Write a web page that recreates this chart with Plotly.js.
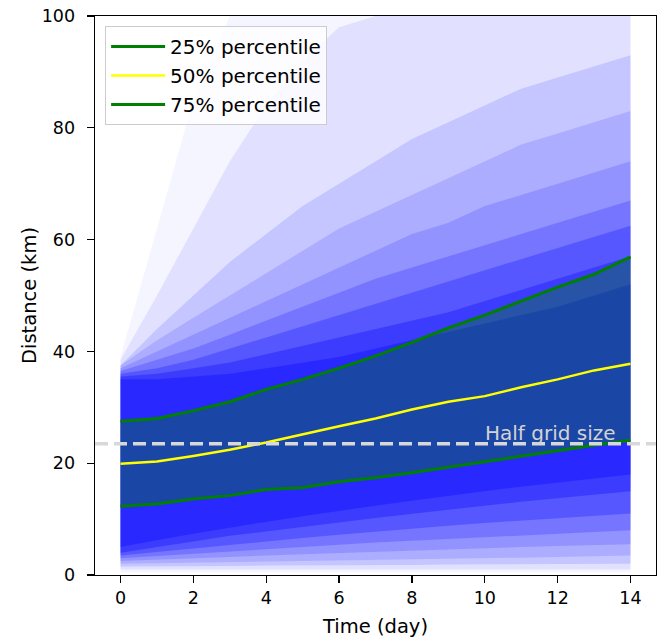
<!DOCTYPE html>
<html>
<head>
<meta charset="utf-8">
<script src="https://cdn.plot.ly/plotly-3.0.1.min.js"></script>
<style>html,body{margin:0;padding:0;background:#fff;}#chart{width:661px;height:638px;}</style>
</head>
<body>
<div id="chart"></div>
<script>
// Time axis (days)
const days = [0,1,2,3,4,5,6,7,8,9,10,11,12,13,14];

// Percentile curves (km)
const p25 = [12.3,12.7,13.6,14.2,15.3,15.6,16.7,17.4,18.3,19.3,20.2,21.3,22.2,23.2,24.1];
const p50 = [19.9,20.3,21.3,22.4,23.7,25.2,26.6,28.0,29.6,31.0,32.0,33.6,35.0,36.6,37.8];
const p75 = [27.5,28.0,29.4,31.0,33.2,35.0,37.0,39.2,41.6,44.2,46.5,49.0,51.5,53.8,56.9];

// Half grid size reference (km)
const halfGrid = 23.5;

// Approximate density envelopes of the individual trajectory cloud (km)
const e0Lo = [0.5,0.5,0.5,0.5,0.5,0.5,0.5,0.5,0.5,0.5,0.5,0.5,0.5,0.5,0.5];
const e0Hi = [39,62,85,100,100,100,100,100,100,100,100,100,100,100,100];
const e1Lo = [1,1,1,1,1,1,1,1,1,1,1,1,1,1,1];
const e1Hi = [38.5,50,62,74,84,92,98,100,100,100,100,100,100,100,100];
const l1Lo = [1.5,1.5,1.6,1.6,1.7,1.7,1.8,1.8,1.8,1.9,1.9,1.9,2,2,2];
const l1Hi = [37.5,44,50,56,61,66,70,74,78,81,84,87,89,91,93];
const l2Lo = [2,2.1,2.2,2.3,2.4,2.5,2.6,2.7,2.8,2.9,3,3.1,3.2,3.3,3.5];
const l2Hi = [37.5,42,46,50,54,58,62,65,68,71,74,77,79,81,83];
const l3Lo = [2.5,2.7,3,3.2,3.5,3.7,4,4.2,4.4,4.6,4.8,5,5.2,5.4,5.5];
const l3Hi = [37,40,43,46,49,52,55,58,61,63,66,68,70,72,74];
const l4Lo = [3,3.4,3.8,4.2,4.6,5,5.4,5.8,6.2,6.5,6.8,7.1,7.4,7.7,8];
const l4Hi = [36.5,38.5,40.5,43,45.5,48,50.5,53,55,57,59,61,63,65,67];
const l5Lo = [3.5,4.2,4.8,5.4,6,6.6,7.2,7.8,8.3,8.8,9.3,9.8,10.2,10.6,11];
const l5Hi = [36,37,38.5,40.5,42.5,44.5,46.5,48.5,50.5,52.5,54.5,56.5,58.5,60.5,62.5];
const l6Lo = [4,5,6,7,7.8,8.6,9.4,10.2,11,11.7,12.4,13.1,13.8,14.4,15];
const l6Hi = [35.5,36,37,38,39.5,41,42.5,44,45.5,47,49,51,53,55,57];
const l7Lo = [5,6.2,7.4,8.5,9.5,10.5,11.5,12.4,13.3,14.2,15,15.8,16.6,17.3,18];
const l7Hi = [35,35,35.5,36,37,38,39,40.5,42,43.5,45,46.5,48,50,52];

const bands = [
  {lo: e0Lo, hi: e0Hi, a: 0.04},
  {lo: e1Lo, hi: e1Hi, a: 0.08},
  {lo: l1Lo, hi: l1Hi, a: 0.12},
  {lo: l2Lo, hi: l2Hi, a: 0.12},
  {lo: l3Lo, hi: l3Hi, a: 0.15},
  {lo: l4Lo, hi: l4Hi, a: 0.2},
  {lo: l5Lo, hi: l5Hi, a: 0.25},
  {lo: l6Lo, hi: l6Hi, a: 0.3},
  {lo: l7Lo, hi: l7Hi, a: 0.3}
];

const revDays = days.slice().reverse();
const traces = [];
bands.forEach(b => {
  traces.push({
    x: days.concat(revDays),
    y: b.hi.concat(b.lo.slice().reverse()),
    type: 'scatter', mode: 'lines', fill: 'toself',
    fillcolor: 'rgba(0,0,255,' + b.a + ')',
    line: {width: 0}, showlegend: false, hoverinfo: 'skip'
  });
});

// green fill between 25% and 75%
traces.push({
  x: days.concat(revDays),
  y: p75.concat(p25.slice().reverse()),
  type: 'scatter', mode: 'lines', fill: 'toself',
  fillcolor: 'rgba(0,128,0,0.35)',
  line: {width: 0}, showlegend: false, hoverinfo: 'skip'
});

traces.push({x: days, y: p25, type: 'scatter', mode: 'lines', name: '25% percentile',
  line: {color: '#008000', width: 3}, legendgroup: 'a'});
traces.push({x: days, y: p50, type: 'scatter', mode: 'lines', name: '50% percentile',
  line: {color: '#ffff00', width: 2.5}, legendgroup: 'b'});
traces.push({x: days, y: p75, type: 'scatter', mode: 'lines', name: '75% percentile',
  line: {color: '#008000', width: 3}, legendgroup: 'c'});

const fontFam = '"DejaVu Sans", sans-serif';
const layout = {
  width: 661, height: 638,
  margin: {l: 95, r: 5, t: 16, b: 63},
  paper_bgcolor: '#fff', plot_bgcolor: '#fff',
  font: {family: fontFam, size: 17, color: '#000'},
  showlegend: true,
  legend: {
    x: 0.018, y: 0.982, xanchor: 'left', yanchor: 'top',
    bgcolor: 'rgba(255,255,255,0.8)', bordercolor: '#cccccc', borderwidth: 1,
    font: {family: fontFam, size: 20, color: '#000'},
    tracegroupgap: 0, traceorder: 'normal', itemwidth: 54
  },
  xaxis: {
    range: [-0.7, 14.7], tickmode: 'linear', tick0: 0, dtick: 2,
    showline: true, mirror: true, linecolor: '#000', linewidth: 1.4,
    ticks: 'outside', ticklen: 7, tickwidth: 1.3, tickcolor: '#000',
    tickfont: {family: fontFam, size: 17.5},
    showgrid: false, zeroline: false,
    title: {text: 'Time (day)', font: {family: fontFam, size: 19.5}, standoff: 12}
  },
  yaxis: {
    range: [0, 100], tickmode: 'linear', tick0: 0, dtick: 20,
    showline: true, mirror: true, linecolor: '#000', linewidth: 1.4,
    ticks: 'outside', ticklen: 7, tickwidth: 1.3, tickcolor: '#000',
    tickfont: {family: fontFam, size: 17.5}, ticklabelstandoff: 8,
    showgrid: false, zeroline: false,
    title: {text: 'Distance (km)', font: {family: fontFam, size: 19.5}, standoff: 0}
  },
  shapes: [{
    type: 'line', xref: 'paper', x0: 0, x1: 1, yref: 'y', y0: halfGrid, y1: halfGrid,
    line: {color: '#d8d8d8', width: 3.5, dash: '13px,6px'}, layer: 'above'
  }],
  annotations: [{
    x: 10, y: halfGrid, xref: 'x', yref: 'y', text: 'Half grid size',
    showarrow: false, xanchor: 'left', yanchor: 'bottom', yshift: -3, xshift: -2,
    font: {family: fontFam, size: 20, color: '#d3d3d3'}
  }]
};

Plotly.newPlot('chart', traces, layout, {staticPlot: true, displayModeBar: false});
</script>
</body>
</html>
